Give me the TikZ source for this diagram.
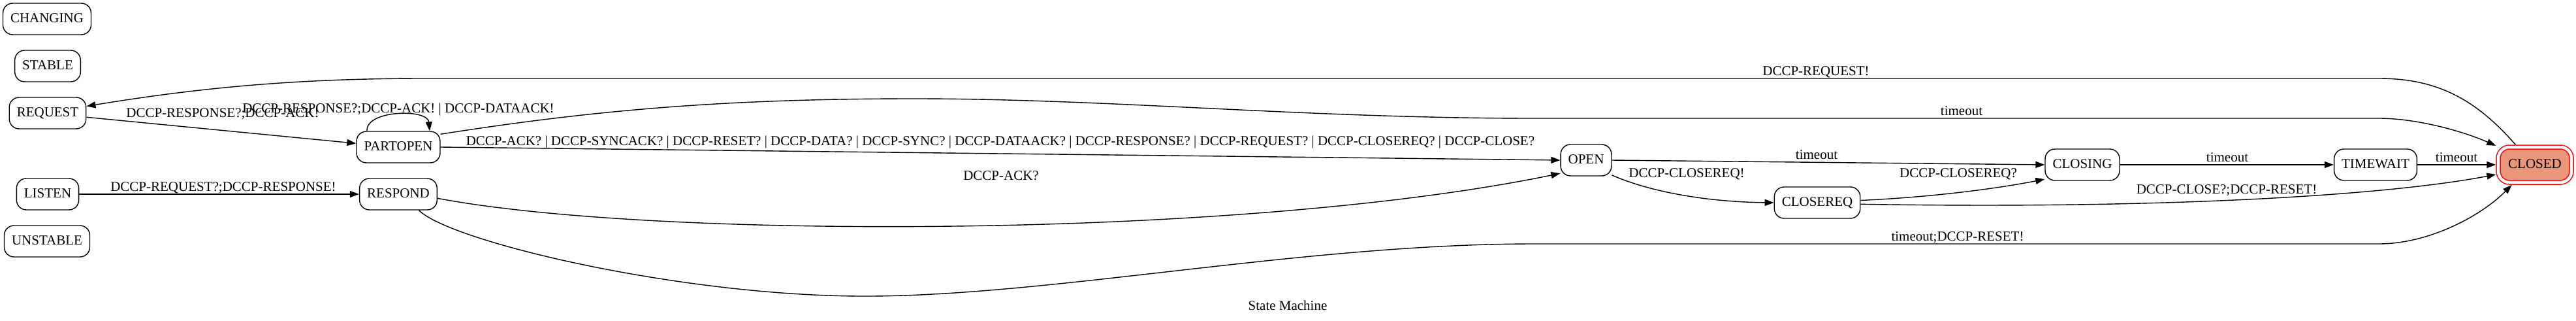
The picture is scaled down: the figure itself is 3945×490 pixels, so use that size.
\documentclass[tikz,border=0pt]{standalone}
\usepackage{fontspec}
\setmainfont{Liberation Serif}
\usepackage{tikz}
\usetikzlibrary{arrows.meta,positioning}
\definecolor{tkRed}{RGB}{255,0,0}
\definecolor{tkSalmon}{RGB}{233,150,122}

\begin{document}
\begin{tikzpicture}[
  x=1pt, y=-1pt,
  font=\fontsize{21}{25}\selectfont,
  box/.style={draw, line width=1.4pt, rounded corners=15pt, minimum height=48pt, inner xsep=11.5pt, text height=14pt, text depth=4pt},
  endbox/.style={box, draw=tkRed, fill=tkSalmon, double=white, double distance=4.5pt, line width=1.5pt, minimum height=54pt, minimum width=112pt, rounded corners=17pt, outer sep=3.75pt},
  lbl/.style={anchor=base, inner sep=0pt},
  arr/.style={-{Triangle[length=14pt, width=10pt]}, line width=1.4pt},
]
\useasboundingbox (0,0) rectangle (3945,490);
% states
\node[box] (changing) at (72,29) {CHANGING};
\node[box] (stable) at (73,101) {STABLE};
\node[box] (request) at (73,173) {REQUEST};
\node[box] (listen) at (73,297) {LISTEN};
\node[box] (unstable) at (72,369) {UNSTABLE};
\node[box] (partopen) at (610,225) {PARTOPEN};
\node[box] (respond) at (610,297) {RESPOND};
\node[box] (open) at (2429,245) {OPEN};
\node[box] (closereq) at (2783,310) {CLOSEREQ};
\node[box] (closing) at (3189,252) {CLOSING};
\node[box] (timewait) at (3638,252) {TIMEWAIT};
\node[endbox] (closed) at (3882,252) {CLOSED};
% transitions
\draw[arr] (listen) -- (respond);
\draw[arr] (request.-6) -- (partopen.175);
\draw[arr] ([xshift=-48pt]partopen.north) .. controls (560,168) and (655,166) .. ([xshift=48pt]partopen.north);
\draw[arr] (partopen.east) -- (open.west);
\draw[arr] (respond.-6) .. controls (1000,366) and (1900,366) .. (open.207);
\draw[arr] (partopen.17) .. controls (900,170) and (1100,151) .. (1400,151)
  .. controls (1700,151) and (2000,181) .. (2350,181) -- (3643,181)
  .. controls (3700,181) and (3770,200) .. (closed.154);
\draw[arr] (closed.134) .. controls (3790,150) and (3730,120) .. (3643,120) -- (650,120)
  .. controls (450,120) and (300,135) .. (request.10);
\draw[arr] (respond.-38) .. controls (690,370) and (1050,455) .. (1335,453)
  .. controls (1620,451) and (2000,373) .. (2350,373) -- (3643,373)
  .. controls (3720,373) and (3800,330) .. (closed.221);
\draw[arr] (open.east) -- (closing.west);
\draw[arr] (open.-30) .. controls (2530,295) and (2620,309) .. (closereq.west);
\draw[arr] (closereq.3) .. controls (2950,302) and (3050,290) .. (closing.201);
\draw[arr] (closereq.-2) .. controls (3300,320) and (3650,300) .. (closed.194);
\draw[arr] (closing) -- (timewait);
\draw[arr] (timewait) -- (closed);
% labels
\node[lbl] (tReqPart) at (341,179) {DCCP-RESPONSE?;DCCP-ACK!};
\node[lbl] (tPartLoop) at (610,172) {DCCP-RESPONSE?;DCCP-ACK! | DCCP-DATAACK!};
\node[lbl] (tListenResp) at (342,292) {DCCP-REQUEST?;DCCP-RESPONSE!};
\node[lbl] (tPartOpen) at (1532,222) {DCCP-ACK? | DCCP-SYNCACK? | DCCP-RESET? | DCCP-DATA? | DCCP-SYNC? | DCCP-DATAACK? | DCCP-RESPONSE? | DCCP-REQUEST? | DCCP-CLOSEREQ? | DCCP-CLOSE?};
\node[lbl] (tRespOpen) at (1533,275) {DCCP-ACK?};
\node[lbl] (tPartClosed) at (3004,176) {timeout};
\node[lbl] (tClosedReq) at (2781,115) {DCCP-REQUEST!};
\node[lbl] (tOpenClosing) at (2782,243) {timeout};
\node[lbl] (tOpenCloseReq) at (2583,271) {DCCP-CLOSEREQ!};
\node[lbl] (tCloseReqClosing) at (2999,271) {DCCP-CLOSEREQ?};
\node[lbl] (tCloseReqClosed) at (3410,296) {DCCP-CLOSE?;DCCP-RESET!};
\node[lbl] (tRespClosed) at (2998,368) {timeout;DCCP-RESET!};
\node[lbl] (tClosingWait) at (3411,247) {timeout};
\node[lbl] (tWaitClosed) at (3762,247) {timeout};
\node[lbl] (caption) at (1972,474) {State Machine};
\end{tikzpicture}
\end{document}
